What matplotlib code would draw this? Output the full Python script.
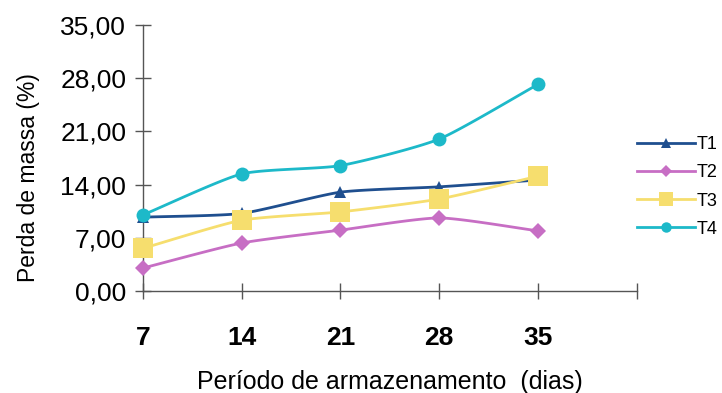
import numpy as np
import matplotlib
matplotlib.use("Agg")
import matplotlib.pyplot as plt
from matplotlib.lines import Line2D

plt.rcParams['font.family'] = ['Liberation Sans', 'DejaVu Sans']

dias = [7, 14, 21, 28, 35]
t1 = [9.7, 10.2, 13.0, 13.7, 14.6]
t2 = [3.0, 6.3, 8.0, 9.6, 7.9]
t3 = [5.6, 9.3, 10.4, 12.1, 15.1]
t4 = [10.0, 15.4, 16.5, 20.0, 27.2]
y_ticks = [0, 7, 14, 21, 28, 35]
y_tick_labels = ["0,00", "7,00", "14,00", "21,00", "28,00", "35,00"]
x_ticks = [7, 14, 21, 28, 35]


def smooth(x, y, n=30):
    """Catmull-Rom curve through the points, like spreadsheet smoothed lines."""
    x = np.asarray(x, float)
    y = np.asarray(y, float)
    px = np.concatenate([[2 * x[0] - x[1]], x, [2 * x[-1] - x[-2]]])
    py = np.concatenate([[2 * y[0] - y[1]], y, [2 * y[-1] - y[-2]]])
    xs, ys = [], []
    t = np.linspace(0, 1, n)
    for i in range(1, len(px) - 2):
        for arr, out in ((px, xs), (py, ys)):
            p0, p1, p2, p3 = arr[i - 1], arr[i], arr[i + 1], arr[i + 2]
            m1 = (p2 - p0) / 2 * 0.6
            m2 = (p3 - p1) / 2 * 0.6
            h00 = 2 * t**3 - 3 * t**2 + 1
            h10 = t**3 - 2 * t**2 + t
            h01 = -2 * t**3 + 3 * t**2
            h11 = t**3 - t**2
            out.extend(h00 * p1 + h10 * m1 + h01 * p2 + h11 * m2)
    return np.array(xs), np.array(ys)


series = [
    ("T1", t1, "#1f4f8f", "^", 9),
    ("T2", t2, "#c76ec4", "D", 8),
    ("T3", t3, "#f6de6e", "s", 14),
    ("T4", t4, "#1db9c9", "o", 10),
]

fig = plt.figure(figsize=(7.22, 3.93), dpi=100)
ax = fig.add_axes([0.198, 0.26, 0.684, 0.676])

handles = []
for name, vals, col, mk, ms in series:
    sx, sy = smooth(dias, vals)
    ax.plot(sx, sy, color=col, lw=2.0, zorder=2)
    ax.plot(dias, vals, linestyle="none", marker=mk, color=col, ms=ms,
            markeredgewidth=0, zorder=3, clip_on=False)
    handles.append(Line2D([], [], color=col, lw=2.0, marker=mk,
                          ms=ms * 0.75, markeredgewidth=0))

ax.set_xlim(7, 42)
ax.set_ylim(0, 35)
ax.set_yticks(y_ticks)
ax.set_yticklabels(y_tick_labels)
ax.set_xticks(x_ticks + [42])
ax.set_xticklabels([str(v) for v in x_ticks] + [""])

for side in ("top", "right"):
    ax.spines[side].set_visible(False)
for side in ("left", "bottom"):
    ax.spines[side].set_color("#555555")
    ax.spines[side].set_linewidth(1.0)

ax.tick_params(axis="y", direction="inout", length=12, width=1.0,
               color="#555555", labelsize=19, pad=6)
ax.tick_params(axis="x", direction="inout", length=12, width=1.0,
               color="#555555", labelsize=19, pad=19)
for lbl in ax.get_xticklabels():
    lbl.set_fontweight("bold")

ax.set_ylabel("Perda de massa (%)", fontsize=16.5)
ax.yaxis.set_label_coords(-0.209, 0.425)
ax.set_xlabel("Período de armazenamento  (dias)", fontsize=18, labelpad=15)

fig.legend(handles, [s[0] for s in series], loc="upper left",
           bbox_to_anchor=(0.872, 0.672), frameon=False, fontsize=13,
           handlelength=3.2, handletextpad=0.1, labelspacing=0.62,
           borderaxespad=0)

fig.savefig("out.png", dpi=100)
